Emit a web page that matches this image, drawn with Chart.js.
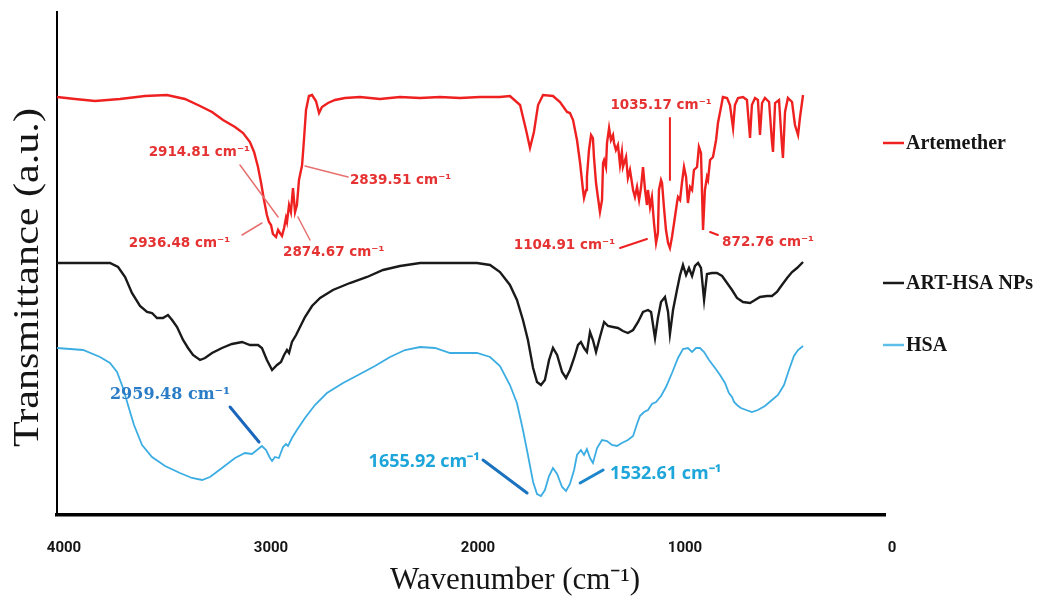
<!DOCTYPE html>
<html>
<head>
<meta charset="utf-8">
<script src="https://cdn.jsdelivr.net/npm/chart.js@4.4.1/dist/chart.umd.min.js"></script>
<style>
  html, body { margin: 0; padding: 0; background: #fff; }
  #wrap { width: 1045px; height: 600px; position: relative; }
</style>
</head>
<body>
<div id="wrap"><canvas id="ftir"></canvas></div>
<script>
// -------------------------------------------------------
// Data (wavenumber in cm-1, transmittance in offset a.u.)
// -------------------------------------------------------
const xTicks = [4000, 3000, 2000, 1000, 0];
const seriesNames = ['Artemether', 'ART-HSA NPs', 'HSA'];

const artemetherWn = [4000,3913,3816,3696,3575,3469,3382,3309,3251,3198,
    3140,3101,3068,3048,3029,3014,3000,2986,2976,2966,
    2957,2942,2932,2923,2913,2903,2894,2889,2879,2870,
    2860,2850,2841,2831,2816,2807,2797,2783,2768,2749,
    2734,2720,2691,2657,2609,2536,2440,2343,2246,2150,
    2053,1957,1860,1812,1763,1734,1715,1696,1676,1652,
    1604,1570,1536,
    1522,1507,1488,1473,1459,1454,1444,1440,1430,1420,
    1411,1406,1396,1387,1377,1367,1362,1357,1348,1343,
    1333,1324,1314,1309,1300,1290,1280,1271,1266,1251,
    1242,1232,1217,1208,1198,1188,1179,1169,1159,1150,
    1145,1135,1126,1116,1106,1097,1092,1082,1077,1068,
    1058,1048,1039,1029,1019,1005,1000,990,981,971,
    961,952,942,932,923,908,899,889,879,870,
    860,855,845,831,816,807,792,783,763,749,
    734,725,710,686,667,652,643,628,614,604,
    594,580,560,546,541,531,512,498,493,483,
    469,449,435,420,411,396];
const artemetherT = [418,416,414,416,419,420,416,409,403,395,
    388,382,373,363,348,332,315,300,293,290,
    281,278,285,282,279,287,297,293,310,303,
    327,303,310,335,350,375,405,419,420,414,
    402,408,412,415,417,418,416,418,417,418,
    417,418,418,419,410,385,367,383,410,420,
    419,413,403,
    402,395,375,352,325,317,325,338,365,380,
    377,358,332,318,303,315,352,355,348,372,
    387,375,380,372,365,370,350,363,348,358,
    337,345,325,318,328,315,327,348,325,310,
    325,308,318,292,272,282,325,335,332,308,
    285,272,267,278,292,312,318,315,332,348,
    338,312,328,325,345,348,368,362,285,325,
    338,335,355,358,375,392,408,418,417,410,
    387,410,417,418,415,377,410,417,415,380,
    412,417,413,373,363,412,415,370,357,403,
    417,413,390,380,397,420];

const nanoWn = [4000,3889,3744,3705,3671,3638,3599,3565,3541,3517,
    3488,3464,3444,3420,3391,3367,3343,3309,3285,3251,
    3203,3155,3106,3068,3029,3010,2986,2961,2937,2918,
    2903,2889,2879,2865,2845,2826,2802,2768,2729,2667,
    2585,2502,2425,2343,2246,2101,1971,1908,1860,1812,
    1778,1749,1725,1700,1681,1662,1643,1623,1604,1584,
    1560,1541,1522,1502,1483,1469,1454,1440,1425,1411,
    1396,1377,1357,1338,1314,1290,1266,1242,1217,1193,
    1169,1145,1130,1111,1097,1082,1063,1048,1039,1024,
    1005,990,976,961,947,932,918,903,889,874,
    860,836,812,787,763,739,715,686,652,628,
    604,570,546,522,498,473,449,425,396];
const nanoT = [252,252,252,248,238,222,209,203,202,197,
    197,200,195,188,175,167,160,155,157,162,
    167,171,173,170,170,167,155,145,150,153,
    160,165,162,173,180,188,198,209,217,225,
    232,238,245,249,252,252,252,250,243,230,
    215,195,175,147,133,130,135,155,167,160,
    143,137,145,157,170,173,167,163,183,175,
    163,178,193,189,188,187,184,182,185,193,
    203,205,203,177,197,213,218,203,181,205,
    225,240,250,240,247,239,249,252,247,215,
    241,242,242,239,232,225,217,213,212,215,
    218,219,219,223,230,237,243,247,253];

const hsaWn = [4000,3874,3792,3744,3710,3681,3657,3628,3589,3541,
    3478,3406,3348,3299,3261,3203,3140,3092,3058,3034,
    3010,2990,2971,2961,2947,2928,2908,2894,2884,2865,
    2841,2802,2754,2696,2618,2536,2464,2391,2319,2246,
    2174,2101,1971,1908,1860,1812,1778,1749,1725,1700,
    1681,1662,1643,1623,1604,1584,1560,1541,1522,1502,
    1488,1469,1454,1440,1425,1411,1391,1367,1343,1319,
    1295,1271,1242,1217,1198,1184,1164,1145,1126,1106,
    1082,1058,1029,1000,976,952,932,913,894,874,
    850,821,797,773,754,739,729,715,696,671,
    643,614,580,546,517,488,464,440,420,396];
const hsaT = [167,165,158,152,143,127,110,90,70,58,
    49,42,37,35,38,47,57,62,61,65,
    69,65,57,54,58,57,68,71,69,77,
    85,97,110,122,132,141,149,158,165,168,
    167,162,162,158,149,130,112,85,60,33,
    21,19,25,39,47,41,28,24,31,45,
    60,65,60,66,57,52,67,75,74,70,
    69,72,75,79,91,99,103,105,111,113,
    119,128,142,157,166,167,163,167,167,163,
    155,147,140,132,122,118,113,110,107,105,
    103,105,109,115,120,130,145,159,165,169];

// -------------------------------------------------------
// Styling
// -------------------------------------------------------
const RED = '#ee2020';
const BLACK = '#1a1a1a';
const BLUE = '#3cade2';
const LEGEND_BLUE = '#5cc0ea';

const toPoints = (wn, t) => wn.map((x, i) => ({ x, y: t[i] }));

// peak labels, anchored in data units [wavenumber, transmittance]
const RED_FONT = 'bold 13.5px "DejaVu Sans"';
const PEAK_NOTES = [
    { text: '2914.81 cm\u207B\u00B9', color: '#e53333', font: RED_FONT, at: [3068, 363], align: 'right', from: [3116, 350], to: [2932, 298], line: '#e87070', lw: 1.5 },
    { text: '2839.51 cm\u207B\u00B9', color: '#e53333', font: RED_FONT, at: [2585, 335], align: 'left', from: [2802, 349], to: [2594, 338], line: '#e87070', lw: 1.5 },
    { text: '2936.48 cm\u207B\u00B9', color: '#e53333', font: RED_FONT, at: [3164, 272], align: 'right', from: [3106, 280], to: [3010, 292], line: '#e87070', lw: 1.5 },
    { text: '2874.67 cm\u207B\u00B9', color: '#e53333', font: RED_FONT, at: [2908, 263], align: 'left', from: [2836, 298], to: [2778, 275], line: '#e87070', lw: 1.5 },
    { text: '1035.17 cm\u207B\u00B9', color: '#e53333', font: RED_FONT, at: [1082, 410], align: 'center', from: [1039, 397], to: [1039, 335], line: '#ee2020', lw: 2 },
    { text: '1104.91 cm\u207B\u00B9', color: '#e53333', font: RED_FONT, at: [1304, 270], align: 'right', from: [1280, 267], to: [1150, 276], line: '#ee2020', lw: 2 },
    { text: '872.76 cm\u207B\u00B9', color: '#e53333', font: RED_FONT, at: [787, 273], align: 'left', from: [845, 283], to: [807, 280], line: '#ee2020', lw: 2 },
    { text: '2959.48 cm\u207B\u00B9', color: '#2a7cc6', font: 'bold 16px "DejaVu Serif"', at: [3744, 120], align: 'left', from: [3164, 108], to: [3024, 73], line: '#1a66bb', lw: 3 },
    { text: '1655.92 cm\u207B\u00B9', color: '#1ea6da', font: 'bold 18px "Open Sans"', at: [1957, 53], align: 'right', from: [1942, 55], to: [1729, 22], line: '#1b72be', lw: 3 },
    { text: '1532.61 cm\u207B\u00B9', color: '#1ea6da', font: 'bold 18px "Open Sans"', at: [1328, 41], align: 'left', from: [1473, 32], to: [1362, 45], line: '#1b86cc', lw: 3 }
];

const LEGEND_ITEMS = [
    { color: RED, level: 372 },
    { color: BLACK, level: 232 },
    { color: LEGEND_BLUE, level: 170 }
];

// -------------------------------------------------------
// Decorations: peak notes, side legend, axis titles
// -------------------------------------------------------
const decorPlugin = {
    id: 'ftirDecor',
    afterDraw(chart) {
        const { ctx, chartArea, scales } = chart;
        const px = v => scales.x.getPixelForValue(v);
        const py = v => scales.y.getPixelForValue(v);

        ctx.save();
        ctx.lineCap = 'round';
        PEAK_NOTES.forEach(n => {
            ctx.strokeStyle = n.line;
            ctx.lineWidth = n.lw;
            ctx.beginPath();
            ctx.moveTo(px(n.from[0]), py(n.from[1]));
            ctx.lineTo(px(n.to[0]), py(n.to[1]));
            ctx.stroke();

            ctx.fillStyle = n.color;
            ctx.font = n.font;
            ctx.textAlign = n.align;
            ctx.textBaseline = 'middle';
            ctx.fillText(n.text, px(n.at[0]), py(n.at[1]));
        });

        // side legend
        ctx.lineCap = 'butt';
        ctx.font = 'bold 20px "Liberation Serif"';
        ctx.textAlign = 'left';
        ctx.textBaseline = 'middle';
        LEGEND_ITEMS.forEach((item, i) => {
            const y = py(item.level);
            const x0 = chartArea.right - 2;
            ctx.strokeStyle = item.color;
            ctx.lineWidth = 2.5;
            ctx.beginPath();
            ctx.moveTo(x0, y);
            ctx.lineTo(x0 + 21, y);
            ctx.stroke();
            ctx.fillStyle = '#151515';
            ctx.fillText(seriesNames[i], x0 + 23, y + 1);
        });

        // axis titles
        ctx.fillStyle = '#151515';
        ctx.textAlign = 'center';
        ctx.font = '31px "Liberation Serif"';
        ctx.fillText('Wavenumber (cm\u207B\u00B9)', (chartArea.left + chartArea.right) / 2 + 44, chartArea.bottom + 66);

        ctx.translate(chartArea.left - 28, (chartArea.top + chartArea.bottom) / 2 + 14);
        ctx.rotate(-Math.PI / 2);
        ctx.scale(1.17, 1);
        ctx.font = '36px "Liberation Serif"';
        ctx.fillText('Transmittance (a.u.)', 0, 0);
        ctx.restore();
    }
};

// -------------------------------------------------------
// Chart
// -------------------------------------------------------
const lineSet = (label, wn, t, color, width) => ({
    label,
    data: toPoints(wn, t),
    borderColor: color,
    borderWidth: width,
    pointRadius: 0,
    tension: 0,
    fill: false
});

new Chart(document.getElementById('ftir').getContext('2d'), {
    type: 'line',
    data: {
        datasets: [
            lineSet(seriesNames[0], artemetherWn, artemetherT, RED, 2.4),
            lineSet(seriesNames[1], nanoWn, nanoT, BLACK, 2.4),
            lineSet(seriesNames[2], hsaWn, hsaT, BLUE, 1.8)
        ]
    },
    options: {
        responsive: true,
        maintainAspectRatio: false,
        animation: false,
        devicePixelRatio: 1,
        layout: { padding: { top: 12, right: 160, left: 0, bottom: 0 } },
        plugins: {
            legend: { display: false },
            tooltip: { enabled: false }
        },
        scales: {
            x: {
                type: 'linear',
                reverse: true,
                min: 0,
                max: 4000,
                afterBuildTicks: s => { s.ticks = xTicks.map(v => ({ value: v })); },
                afterFit: s => { s.height = 85; },
                grid: { display: false },
                border: { display: true, color: '#000', width: 3.5 },
                ticks: {
                    color: '#151515',
                    padding: 16,
                    labelOffset: 7,
                    font: { family: 'Roboto', weight: 'bold', size: 15 },
                    callback: v => String(v)
                }
            },
            y: {
                min: 0,
                max: 503,
                afterFit: s => { s.width = 57; },
                grid: { display: false },
                border: { display: true, color: '#000', width: 2 },
                ticks: { display: false }
            }
        }
    },
    plugins: [decorPlugin]
});
</script>
</body>
</html>
